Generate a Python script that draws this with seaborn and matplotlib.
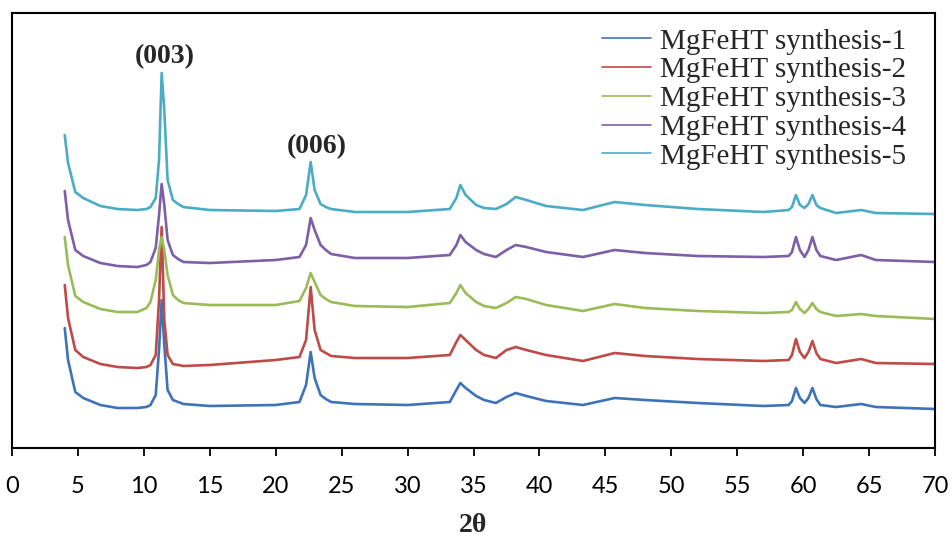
import matplotlib
matplotlib.use("Agg")
import matplotlib.pyplot as plt
import seaborn as sns
import numpy as np
import pandas as pd

# 2-theta positions (shared by every sample)
two_theta = [4.0, 4.25, 4.8, 5.4, 6.7, 8.0, 9.5, 10.2, 10.5, 10.9, 11.15, 11.35,
             11.55, 11.8, 12.2, 12.6, 13.0, 15.0, 20.0, 21.8, 22.3, 22.65, 22.95,
             23.4, 23.8, 24.2, 26.0, 30.0, 33.2, 33.7, 34.0, 34.4, 35.2, 35.8,
             36.7, 37.5, 38.2, 39.0, 40.5, 43.3, 45.7, 48.0, 52.0, 57.0, 58.9,
             59.15, 59.45, 59.75, 60.1, 60.4, 60.7, 61.0, 61.3, 62.5, 64.4, 65.5,
             70.0]

# intensities (a.u., already stacked with their offsets)
synth1 = [120, 88, 56, 50, 43, 40, 40, 41, 43, 53, 98, 148, 103, 58, 48, 46, 44,
          42, 43, 46, 63, 96, 70, 53, 49, 46, 44, 43, 46, 58, 65, 60, 52, 48, 45,
          51, 55, 52, 47, 43, 50, 48, 45, 42, 43, 47, 60, 50, 45, 50, 60, 49, 43,
          41, 44, 41, 39]
synth2 = [163, 130, 98, 91, 84, 81, 80, 81, 83, 93, 148, 221, 128, 93, 84, 83, 82,
          83, 88, 91, 108, 161, 118, 98, 95, 92, 90, 90, 93, 106, 113, 108, 98, 93,
          90, 98, 101, 98, 93, 87, 95, 92, 89, 87, 88, 93, 109, 96, 90, 96, 107,
          95, 89, 85, 89, 85, 84]
synth3 = [211, 183, 152, 146, 139, 136, 136, 140, 146, 168, 198, 211, 198, 173,
          153, 148, 145, 143, 143, 147, 160, 175, 166, 153, 149, 146, 142, 141,
          145, 155, 163, 155, 146, 142, 140, 145, 151, 149, 143, 137, 144, 140,
          137, 135, 136, 138, 146, 139, 135, 139, 145, 139, 136, 132, 134, 132, 129]
synth4 = [257, 228, 198, 192, 185, 182, 181, 183, 186, 200, 233, 264, 243, 208,
          193, 189, 186, 185, 188, 191, 203, 230, 218, 203, 198, 194, 190, 190,
          193, 203, 213, 206, 198, 194, 191, 198, 203, 201, 196, 191, 198, 195,
          192, 191, 192, 196, 211, 198, 191, 198, 211, 198, 192, 188, 193, 188, 186]
synth5 = [313, 285, 256, 250, 242, 239, 238, 239, 241, 250, 288, 375, 338, 268,
          248, 244, 241, 238, 237, 239, 253, 286, 258, 244, 241, 239, 236, 236,
          239, 250, 263, 253, 243, 240, 239, 244, 251, 248, 242, 238, 246, 243,
          239, 236, 238, 241, 253, 243, 240, 244, 253, 243, 240, 235, 238, 235, 234]

labels = ["MgFeHT synthesis-1", "MgFeHT synthesis-2", "MgFeHT synthesis-3",
          "MgFeHT synthesis-4", "MgFeHT synthesis-5"]
colors = ["#3F73B8", "#BE4B48", "#9BBB59", "#7D5FA8", "#4BACC6"]

frames = []
for lab, vals in zip(labels, [synth1, synth2, synth3, synth4, synth5]):
    frames.append(pd.DataFrame({"2theta": two_theta, "I": vals, "sample": lab}))
df = pd.concat(frames, ignore_index=True)

sns.set_style("white")
serif = ["Liberation Serif", "DejaVu Serif"]

fig = plt.figure(figsize=(9.52, 5.38), dpi=100)
ax = fig.add_axes([0.0126, 0.1673, 0.9696, 0.8085])

sns.lineplot(data=df, x="2theta", y="I", hue="sample", hue_order=labels,
             palette=colors, sort=False, estimator=None, linewidth=1.9,
             legend=False, ax=ax)

ax.set_xlim(0, 70)
ax.set_ylim(0, 435)
ax.set_xticks(np.arange(0, 71, 5))
ax.set_yticks([])
ax.tick_params(axis="x", direction="out", length=6, width=1.3, color="black",
               bottom=True, pad=14, labelsize=17, labelcolor="black")
for lbl in ax.get_xticklabels():
    lbl.set_family(["Lato", "DejaVu Sans"])
for sp in ax.spines.values():
    sp.set_visible(True)
    sp.set_color("black")
    sp.set_linewidth(1.5)

ax.set_xlabel("2θ", family=serif, fontsize=20, fontweight="bold", labelpad=12)
ax.set_ylabel("")

ax.text(11.6, 391, "(003)", ha="center", va="center", fontsize=20,
        fontweight="bold", family=serif)
ax.text(23.1, 301, "(006)", ha="center", va="center", fontsize=20,
        fontweight="bold", family=serif)

handles = [plt.Line2D([], [], color=c, lw=1.2) for c in colors]
ax.legend(handles, labels, loc="upper left", bbox_to_anchor=(0.639, 0.965),
          borderaxespad=0, borderpad=0, frameon=False, handlelength=1.7,
          handletextpad=0.3, labelspacing=0.08,
          prop={"family": serif, "size": 21})

fig.savefig("out.png", dpi=100)
